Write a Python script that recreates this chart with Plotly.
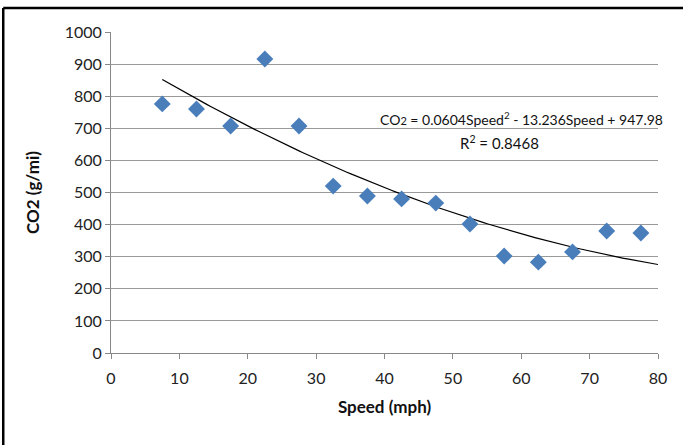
import plotly.graph_objects as go

speed = [7.5, 12.5, 17.5, 22.5, 27.5, 32.5, 37.5, 42.5, 47.5, 52.5, 57.5, 62.5, 67.5, 72.5, 77.5]
co2 = [776, 760, 707, 916, 707, 520, 489, 480, 467, 402, 302, 283, 315, 380, 374]

# fitted polynomial reported on the chart
coef = [0.0604, -13.236, 947.98]
r2 = 0.8468

fit_x = [7.5 + i * 0.5 for i in range(146)]
fit_y = [coef[0] * s ** 2 + coef[1] * s + coef[2] for s in fit_x]

font = "Lato, Open Sans, sans-serif"

fig = go.Figure()
fig.add_trace(go.Scatter(x=fit_x, y=fit_y, mode="lines",
                         line=dict(color="black", width=1.2), showlegend=False))
fig.add_trace(go.Scatter(x=speed, y=co2, mode="markers",
                         marker=dict(symbol="diamond", size=13, color="#4a7ebb"),
                         showlegend=False))

fig.add_annotation(x=1.012, y=0.732, xref="paper", yref="paper", xanchor="right", yanchor="middle",
                   text="CO<span style='font-size:11px'>2</span> = 0.0604Speed<sup>2</sup> - 13.236Speed + 947.98",
                   showarrow=False, font=dict(family=font, size=14, color="#111"))
fig.add_annotation(x=0.711, y=0.656, xref="paper", yref="paper", xanchor="center", yanchor="middle",
                   text="R<sup>2</sup> = %.4f" % r2,
                   showarrow=False, font=dict(family=font, size=15, color="#111"))

# frame around the chart
fig.add_shape(type="line", xref="paper", yref="paper", x0=-0.197, x1=-0.197, y0=-0.3, y1=1.075,
              line=dict(color="black", width=2.5))
fig.add_shape(type="line", xref="paper", yref="paper", x0=-0.197, x1=1.06, y0=1.075, y1=1.075,
              line=dict(color="black", width=2.5))

fig.update_xaxes(range=[0, 80], dtick=10, showgrid=False, showline=True, linecolor="#888",
                 ticks="outside", ticklen=5, tickcolor="#888", zeroline=False, ticklabelstandoff=6,
                 tickfont=dict(family=font, size=16, color="#222"),
                 title=dict(text="<b>Speed (mph)</b>", font=dict(family=font, size=17, color="#111"), standoff=14))
fig.update_yaxes(range=[0, 1000], dtick=100, showgrid=True, gridcolor="#999", gridwidth=1,
                 showline=True, linecolor="#888", ticks="outside", ticklen=5, tickcolor="#888",
                 zeroline=False, tickfont=dict(family=font, size=16, color="#222"),
                 title=dict(text="<b>CO2 (g/mi)</b>", font=dict(family=font, size=17, color="#111"), standoff=20))

fig.update_layout(width=683, height=445, margin=dict(l=111, r=25, t=32, b=92),
                  plot_bgcolor="white", paper_bgcolor="white")
fig.write_html("out.html", config={"displayModeBar": False},
               post_script="document.body.style.margin='0';")
